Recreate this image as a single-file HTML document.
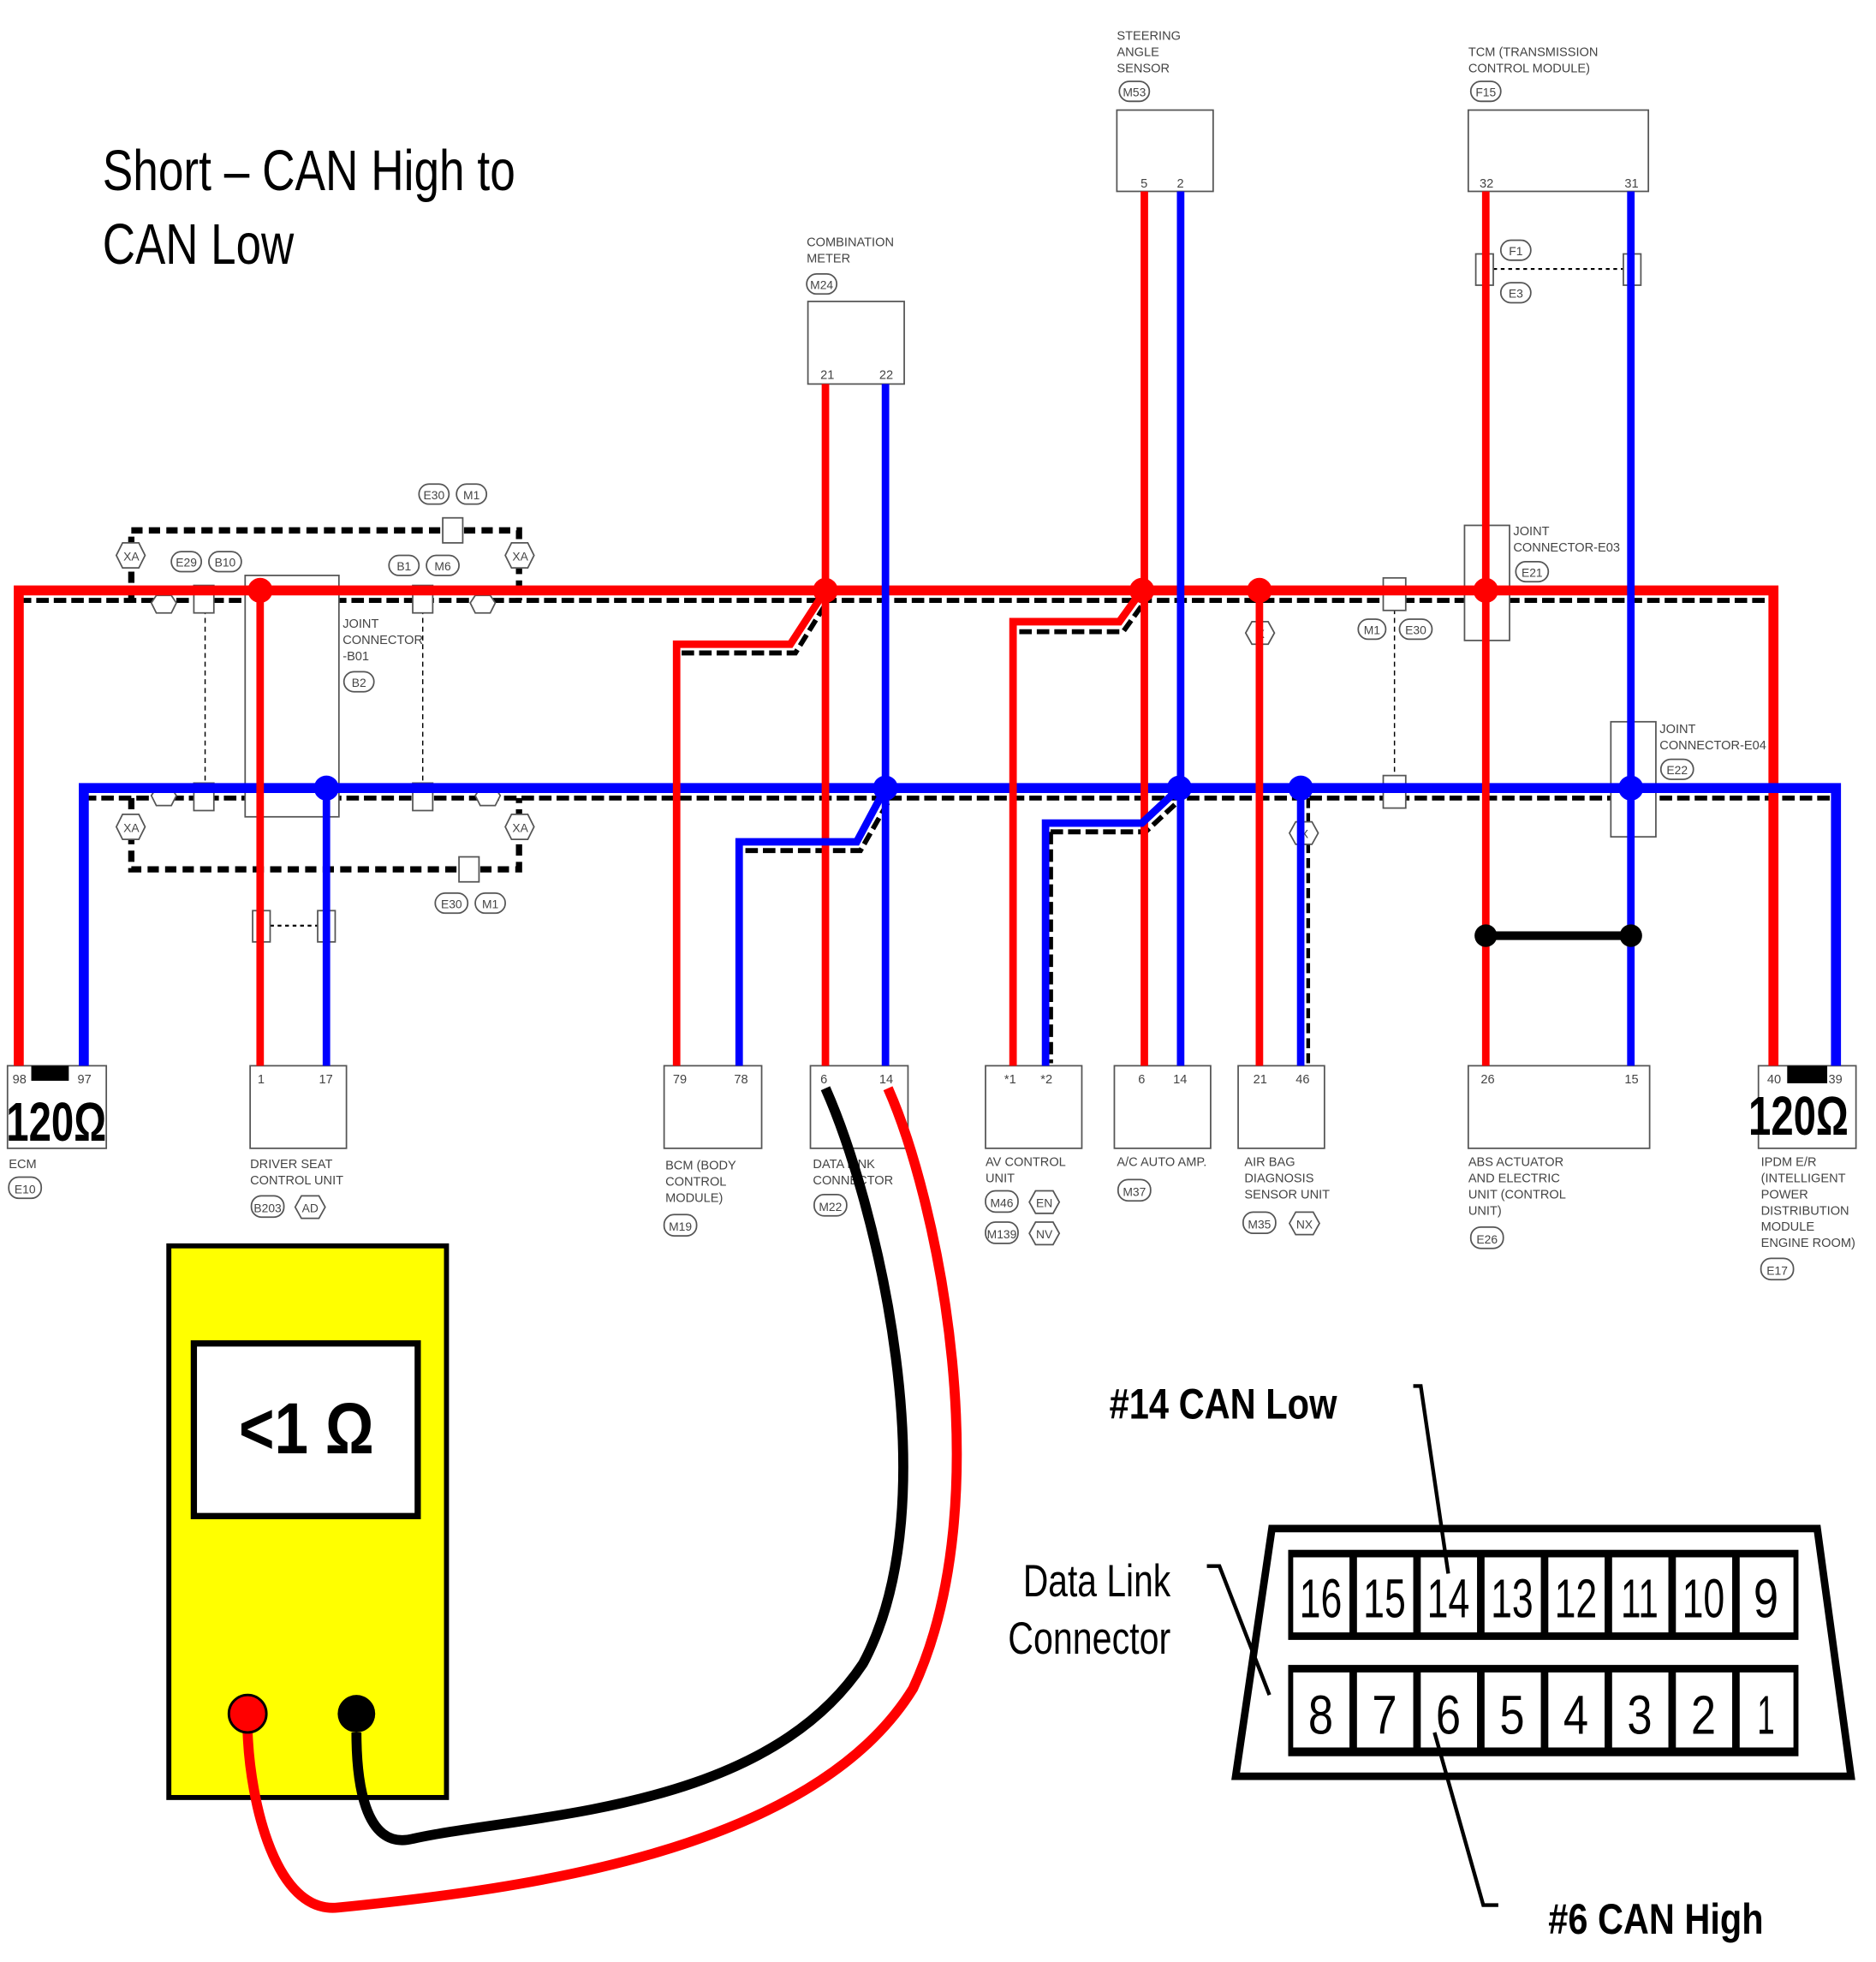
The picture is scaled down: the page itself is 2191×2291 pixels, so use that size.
<!DOCTYPE html>
<html><head><meta charset="utf-8"><style>
html,body{margin:0;padding:0;background:#fff;}
svg{display:block;}
text{font-family:"Liberation Sans",sans-serif;}
.s{font-size:9.5px;fill:#444;}
.lb{font-size:10px;fill:#444;}
</style></head><body>
<svg width="2191" height="2291" viewBox="0 0 1500 1568.5" preserveAspectRatio="none" xmlns="http://www.w3.org/2000/svg">
<rect width="1500" height="1568.5" fill="#fff"/>
<text x="82" y="152" font-size="46" textLength="330" lengthAdjust="spacingAndGlyphs">Short – CAN High to</text>
<text x="82" y="211" font-size="46" textLength="153" lengthAdjust="spacingAndGlyphs">CAN Low</text>

<g stroke="#000" fill="none">
<path d="M105 480 V424 H415 V480" stroke-width="5" stroke-dasharray="9 5"/>
<path d="M105 638 V695 H415 V638" stroke-width="5" stroke-dasharray="9 5"/>
<line x1="15" y1="480" x2="1418" y2="480" stroke-width="4" stroke-dasharray="10 4"/>
<line x1="67" y1="638" x2="1468" y2="638" stroke-width="4" stroke-dasharray="10 4"/>
<path d="M545 522 H636 L662 480" stroke-width="4" stroke-dasharray="10 4"/>
<path d="M596 680 H688 L712 638" stroke-width="4" stroke-dasharray="10 4"/>
<path d="M815 505 H898 L916 480" stroke-width="4" stroke-dasharray="10 4"/>
<path d="M840 665 V850 M840 665 H916 L945 638" stroke-width="4" stroke-dasharray="10 4"/>
<line x1="1046" y1="638" x2="1046" y2="850" stroke-width="3" stroke-dasharray="8 4"/>
<line x1="164" y1="480" x2="164" y2="630" stroke-width="1" stroke-dasharray="4 3"/>
<line x1="338" y1="480" x2="338" y2="630" stroke-width="1" stroke-dasharray="4 3"/>
<line x1="1115" y1="480" x2="1115" y2="630" stroke-width="1" stroke-dasharray="4 3"/>
<line x1="1188" y1="215" x2="1304" y2="215" stroke-width="1.5" stroke-dasharray="3 3"/>
<line x1="210" y1="740" x2="262" y2="740" stroke-width="1.5" stroke-dasharray="3 3"/>
</g>

<g stroke="#555" stroke-width="1.2" fill="#fff">
<rect x="196" y="460" width="75" height="193"/>
<rect x="646" y="241" width="77" height="66"/>
<rect x="893" y="88" width="77" height="65"/>
<rect x="1174" y="88" width="144" height="65"/>
<rect x="1171" y="420" width="36" height="92"/>
<rect x="1288" y="577" width="36" height="92"/>
<rect x="1180" y="203" width="14" height="25"/><rect x="1298" y="203" width="14" height="25"/>
<rect x="202" y="728" width="14" height="25"/><rect x="254" y="728" width="14" height="25"/>
<rect x="354" y="414" width="16" height="20"/><rect x="367" y="685" width="16" height="20"/>
<rect x="155" y="468" width="16" height="22"/><rect x="330" y="468" width="16" height="22"/>
<rect x="155" y="626" width="16" height="22"/><rect x="330" y="626" width="16" height="22"/>
<rect x="1106" y="462" width="18" height="26"/><rect x="1106" y="620" width="18" height="26"/>
<rect x="6" y="852" width="79" height="66"/>
<rect x="200" y="852" width="77" height="66"/>
<rect x="531" y="852" width="78" height="66"/>
<rect x="648" y="852" width="78" height="66"/>
<rect x="788" y="852" width="77" height="66"/>
<rect x="891" y="852" width="77" height="66"/>
<rect x="990" y="852" width="69" height="66"/>
<rect x="1174" y="852" width="145" height="66"/>
<rect x="1406" y="852" width="78" height="66"/>
</g>
<g fill="#fff" stroke="#555" stroke-width="1.2">
<polygon points="93,444 98,434 111,434 116,444 111,454 98,454"/>
<polygon points="404,444 409,434 422,434 427,444 422,454 409,454"/>
<polygon points="93,661 98,651 111,651 116,661 111,671 98,671"/>
<polygon points="404,661 409,651 422,651 427,661 422,671 409,671"/>
<polygon points="996,506 1001,497 1014,497 1019,506 1014,515 1001,515"/>
<polygon points="1031,666 1036,657 1049,657 1054,666 1049,675 1036,675"/>
<polygon points="236,965 241,956 255,956 260,965 255,974 241,974"/>
<polygon points="823,961 828,952 842,952 847,961 842,970 828,970"/>
<polygon points="823,986 828,977 842,977 847,986 842,995 828,995"/>
<polygon points="1031,978 1036,969 1050,969 1055,978 1050,987 1036,987"/>
<polygon points="121,482 125,476 137,476 141,482 137,490 125,490"/>
<polygon points="376,482 380,476 392,476 396,482 392,490 380,490"/>
<polygon points="121,636 125,630 137,630 141,636 137,644 125,644"/>
<polygon points="380,636 384,630 396,630 400,636 396,644 384,644"/>
<rect x="335" y="387" width="24" height="16" rx="8"/><rect x="365" y="387" width="24" height="16" rx="8"/>
<rect x="137" y="441" width="24" height="16" rx="8"/><rect x="167" y="441" width="26" height="16" rx="8"/>
<rect x="311" y="444" width="24" height="16" rx="8"/><rect x="341" y="444" width="26" height="16" rx="8"/>
<rect x="348" y="714" width="26" height="16" rx="8"/><rect x="380" y="714" width="24" height="16" rx="8"/>
<rect x="275" y="537" width="24" height="16" rx="8"/>
<rect x="645" y="219" width="24" height="16" rx="8"/>
<rect x="895" y="65" width="24" height="16" rx="8"/>
<rect x="1176" y="65" width="24" height="16" rx="8"/>
<rect x="1200" y="192" width="24" height="16" rx="8"/><rect x="1200" y="226" width="24" height="16" rx="8"/>
<rect x="1086" y="495" width="22" height="16" rx="8"/><rect x="1119" y="495" width="26" height="16" rx="8"/>
<rect x="1212" y="449" width="26" height="16" rx="8"/><rect x="1328" y="607" width="26" height="16" rx="8"/>
<rect x="7" y="941" width="26" height="17" rx="8"/>
<rect x="201" y="956" width="26" height="17" rx="8"/>
<rect x="531" y="971" width="26" height="17" rx="8"/>
<rect x="651" y="955" width="26" height="17" rx="8"/>
<rect x="788" y="952" width="26" height="17" rx="8"/><rect x="788" y="977" width="26" height="17" rx="8"/>
<rect x="894" y="943" width="26" height="17" rx="8"/>
<rect x="994" y="969" width="26" height="17" rx="8"/>
<rect x="1176" y="981" width="26" height="17" rx="8"/>
<rect x="1408" y="1006" width="26" height="17" rx="8"/>
</g>
<g class="s" text-anchor="middle">
<text x="105" y="448">XA</text><text x="416" y="448">XA</text><text x="105" y="665">XA</text><text x="416" y="665">XA</text>
<text x="1008" y="510">X</text><text x="1043" y="670">X</text>
<text x="347" y="399">E30</text><text x="377" y="399">M1</text>
<text x="149" y="453">E29</text><text x="180" y="453">B10</text>
<text x="323" y="456">B1</text><text x="354" y="456">M6</text>
<text x="361" y="726">E30</text><text x="392" y="726">M1</text>
<text x="287" y="549">B2</text><text x="657" y="231">M24</text><text x="907" y="77">M53</text><text x="1188" y="77">F15</text>
<text x="1212" y="204">F1</text><text x="1212" y="238">E3</text>
<text x="1097" y="507">M1</text><text x="1132" y="507">E30</text>
<text x="1225" y="461">E21</text><text x="1341" y="619">E22</text>
<text x="20" y="954">E10</text><text x="214" y="969">B203</text><text x="248" y="969">AD</text>
<text x="544" y="984">M19</text><text x="664" y="968">M22</text>
<text x="801" y="965">M46</text><text x="801" y="990">M139</text><text x="835" y="965">EN</text><text x="835" y="990">NV</text>
<text x="907" y="956">M37</text><text x="1007" y="982">M35</text><text x="1043" y="982">NX</text>
<text x="1189" y="994">E26</text><text x="1421" y="1019">E17</text>
</g>
<g class="lb">
<text x="274" y="502">JOINT</text><text x="274" y="515">CONNECTOR</text><text x="274" y="528">-B01</text>
<text x="645" y="197">COMBINATION</text><text x="645" y="210">METER</text>
<text x="893" y="32">STEERING</text><text x="893" y="45">ANGLE</text><text x="893" y="58">SENSOR</text>
<text x="1174" y="45">TCM (TRANSMISSION</text><text x="1174" y="58">CONTROL MODULE)</text>
<text x="1210" y="428">JOINT</text><text x="1210" y="441">CONNECTOR-E03</text>
<text x="1327" y="586">JOINT</text><text x="1327" y="599">CONNECTOR-E04</text>
<text x="7" y="934">ECM</text>
<text x="200" y="934">DRIVER SEAT</text><text x="200" y="947">CONTROL UNIT</text>
<text x="532" y="935">BCM (BODY</text><text x="532" y="948">CONTROL</text><text x="532" y="961">MODULE)</text>
<text x="650" y="934">DATA LINK</text><text x="650" y="947">CONNECTOR</text>
<text x="788" y="932">AV CONTROL</text><text x="788" y="945">UNIT</text>
<text x="893" y="932">A/C AUTO AMP.</text>
<text x="995" y="932">AIR BAG</text><text x="995" y="945">DIAGNOSIS</text><text x="995" y="958">SENSOR UNIT</text>
<text x="1174" y="932">ABS ACTUATOR</text><text x="1174" y="945">AND ELECTRIC</text><text x="1174" y="958">UNIT (CONTROL</text><text x="1174" y="971">UNIT)</text>
<text x="1408" y="932">IPDM E/R</text><text x="1408" y="945">(INTELLIGENT</text><text x="1408" y="958">POWER</text><text x="1408" y="971">DISTRIBUTION</text><text x="1408" y="984">MODULE</text><text x="1408" y="997">ENGINE ROOM)</text>
<text x="10" y="866">98</text><text x="62" y="866">97</text><text x="206" y="866">1</text><text x="255" y="866">17</text>
<text x="538" y="866">79</text><text x="587" y="866">78</text><text x="656" y="866">6</text><text x="703" y="866">14</text>
<text x="803" y="866">*1</text><text x="832" y="866">*2</text><text x="910" y="866">6</text><text x="938" y="866">14</text>
<text x="1002" y="866">21</text><text x="1036" y="866">46</text><text x="1184" y="866">26</text><text x="1299" y="866">15</text>
<text x="1413" y="866">40</text><text x="1462" y="866">39</text>
<text x="656" y="303">21</text><text x="703" y="303">22</text><text x="912" y="150">5</text><text x="941" y="150">2</text>
<text x="1183" y="150">32</text><text x="1299" y="150">31</text>
</g>
<rect x="25" y="852" width="30" height="12" fill="#000"/>
<rect x="1429" y="852" width="32" height="14" fill="#000"/>
<text x="5" y="912" font-size="44" font-weight="bold" textLength="80" lengthAdjust="spacingAndGlyphs">120Ω</text>
<text x="1398" y="907" font-size="44" font-weight="bold" textLength="80" lengthAdjust="spacingAndGlyphs">120Ω</text>

<g fill="none" stroke-linejoin="miter">
<path d="M15 852 V472 H1418 V852" stroke="#f00" stroke-width="8"/>
<path d="M67 852 V630 H1468 V852" stroke="#00f" stroke-width="8"/>
<g stroke="#f00" stroke-width="6">
<path d="M208 472 V852"/><path d="M660 307 V852"/><path d="M660 472 L632 515 H541 V852"/>
<path d="M915 153 V852"/><path d="M913 472 L895 497 H810 V852"/><path d="M1007 472 V852"/><path d="M1188 153 V852"/>
</g>
<g stroke="#00f" stroke-width="6">
<path d="M261 630 V852"/><path d="M708 307 V852"/><path d="M708 630 L685 673 H591 V852"/>
<path d="M944 153 V852"/><path d="M943 630 L913 658 H836 V852"/><path d="M1040 630 V852"/><path d="M1304 153 V852"/>
</g>
<path d="M1188 748 H1304" stroke="#000" stroke-width="7"/>
</g>
<g fill="#f00"><circle cx="208" cy="472" r="10"/><circle cx="660" cy="472" r="10"/><circle cx="913" cy="472" r="10"/><circle cx="1007" cy="472" r="10"/><circle cx="1188" cy="472" r="10"/></g>
<g fill="#00f"><circle cx="261" cy="630" r="10"/><circle cx="708" cy="630" r="10"/><circle cx="943" cy="630" r="10"/><circle cx="1040" cy="630" r="10"/><circle cx="1304" cy="630" r="10"/></g>
<circle cx="1188" cy="748" r="9"/><circle cx="1304" cy="748" r="9"/>

<rect x="135" y="996" width="222" height="441" fill="#ff0" stroke="#000" stroke-width="4"/>
<rect x="155" y="1074" width="179" height="138" fill="#fff" stroke="#000" stroke-width="5"/>
<text x="245" y="1162" font-size="58" font-weight="bold" text-anchor="middle" textLength="108" lengthAdjust="spacingAndGlyphs">&lt;1 Ω</text>
<path d="M660 870 C700 960 760 1200 690 1330 C610 1450 420 1450 330 1470 C290 1480 285 1420 285 1385" fill="none" stroke="#000" stroke-width="8"/>
<path d="M710 870 C750 960 800 1200 730 1350 C650 1480 420 1510 270 1525 C220 1530 200 1440 198 1385" fill="none" stroke="#f00" stroke-width="8"/>
<circle cx="198" cy="1370" r="15" fill="#f00" stroke="#000" stroke-width="2"/>
<circle cx="285" cy="1370" r="15" fill="#000"/>

<polygon points="1017,1222 1453,1222 1480,1420 988,1420" fill="#fff" stroke="#000" stroke-width="6"/>
<rect x="1030" y="1239" width="408" height="72" fill="#000"/>
<rect x="1030" y="1331" width="408" height="73" fill="#000"/>
<rect x="1034" y="1316" width="400" height="11" fill="#fff"/>
<g fill="#fff">
<rect x="1034" y="1245" width="45" height="60"/><rect x="1085" y="1245" width="45" height="60"/><rect x="1136" y="1245" width="45" height="60"/><rect x="1187" y="1245" width="45" height="60"/><rect x="1238" y="1245" width="45" height="60"/><rect x="1289" y="1245" width="45" height="60"/><rect x="1340" y="1245" width="45" height="60"/><rect x="1391" y="1245" width="43" height="60"/>
<rect x="1034" y="1337" width="45" height="60"/><rect x="1085" y="1337" width="45" height="60"/><rect x="1136" y="1337" width="45" height="60"/><rect x="1187" y="1337" width="45" height="60"/><rect x="1238" y="1337" width="45" height="60"/><rect x="1289" y="1337" width="45" height="60"/><rect x="1340" y="1337" width="45" height="60"/><rect x="1391" y="1337" width="43" height="60"/>
</g>
<g font-size="44" text-anchor="middle">
<text x="1056" y="1293" textLength="34" lengthAdjust="spacingAndGlyphs">16</text><text x="1107" y="1293" textLength="34" lengthAdjust="spacingAndGlyphs">15</text><text x="1158" y="1293" textLength="34" lengthAdjust="spacingAndGlyphs">14</text><text x="1209" y="1293" textLength="34" lengthAdjust="spacingAndGlyphs">13</text><text x="1260" y="1293" textLength="34" lengthAdjust="spacingAndGlyphs">12</text><text x="1311" y="1293" textLength="30" lengthAdjust="spacingAndGlyphs">11</text><text x="1362" y="1293" textLength="34" lengthAdjust="spacingAndGlyphs">10</text><text x="1412" y="1293" textLength="20" lengthAdjust="spacingAndGlyphs">9</text>
<text x="1056" y="1386" textLength="20" lengthAdjust="spacingAndGlyphs">8</text><text x="1107" y="1386" textLength="20" lengthAdjust="spacingAndGlyphs">7</text><text x="1158" y="1386" textLength="20" lengthAdjust="spacingAndGlyphs">6</text><text x="1209" y="1386" textLength="20" lengthAdjust="spacingAndGlyphs">5</text><text x="1260" y="1386" textLength="20" lengthAdjust="spacingAndGlyphs">4</text><text x="1311" y="1386" textLength="20" lengthAdjust="spacingAndGlyphs">3</text><text x="1362" y="1386" textLength="20" lengthAdjust="spacingAndGlyphs">2</text><text x="1412" y="1386" textLength="14" lengthAdjust="spacingAndGlyphs">1</text>
</g>
<g fill="none" stroke="#000" stroke-width="3">
<path d="M1130 1108 H1136 L1158 1258"/>
<path d="M965 1252 H975 L1015 1355"/>
<path d="M1147 1385 L1186 1523 H1198"/>
</g>
<text x="887" y="1134" font-size="34" font-weight="bold" textLength="182" lengthAdjust="spacingAndGlyphs">#14 CAN Low</text>
<text x="818" y="1276" font-size="36" textLength="118" lengthAdjust="spacingAndGlyphs">Data Link</text>
<text x="806" y="1322" font-size="36" textLength="130" lengthAdjust="spacingAndGlyphs">Connector</text>
<text x="1238" y="1546" font-size="34" font-weight="bold" textLength="172" lengthAdjust="spacingAndGlyphs">#6 CAN High</text>
</svg>
</body></html>
